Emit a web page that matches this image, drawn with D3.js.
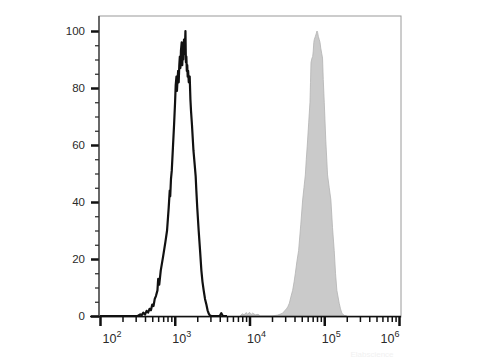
<!DOCTYPE html>
<html>
<head>
<meta charset="utf-8">
<script src="https://cdn.jsdelivr.net/npm/d3@7"></script>
<style>
  body { margin: 0; background: #fff; }
  svg text { font-family: "Liberation Sans", Arial, sans-serif; fill: #2a2a2a; }
</style>
</head>
<body>
<div id="chart"></div>
<script>
// unstained control (black outline) : [intensity, % of max]
let ctrlHist = [
  [100,0],[320,0],[345,0.6],[360,0.2],[380,1.2],[400,0.5],[420,1.8],[440,1.2],[460,2.5],[480,2],
  [500,4],[520,3.5],[540,6],[560,7],[587,9],[600,13],[620,11],[650,16],[700,21],[750,26],
  [789,30],[830,38],[857,44],[870,42],[890,48],[912,51],[945,59],[979,67],[1010,75],[1030,81],
  [1054,84],[1070,79],[1090,83],[1110,86],[1130,82],[1150,88],[1170,91],[1190,87],[1210,93],[1239,96],
  [1260,88],[1280,94],[1300,90],[1330,97],[1360,92],[1390,100],[1410,89],[1430,91],[1450,86],[1470,88],
  [1490,84],[1510,86],[1540,82],[1585,84],[1620,76],[1650,72],[1700,67],[1780,58],[1849,53],[1905,49],
  [1945,44],[2000,38],[2089,30],[2180,23],[2270,16],[2350,12],[2438,9],[2540,6],[2649,4],[2750,2],
  [2850,0.8],[2950,0.2],[3100,0],[4000,0],[4200,1],[4400,0],[5000,0]
];
// stained sample (grey filled)
let stainHist = [
  [7500,0],[8000,0.8],[8500,0.4],[9000,1.2],[9500,0.6],[10000,1.3],[10500,0.5],[11000,1],[12000,0.4],[13000,0.6],
  [14000,0],[20000,0],[23610,0.3],[25500,0.6],[27800,1],[29500,1.8],[31140,2.5],[32500,3.2],[34150,4.5],[36000,7],
  [37780,9],[39500,12],[41050,15],[43000,19],[45410,23],[48500,32],[51400,40.7],[53500,45],[55850,49.5],[57500,55],
  [59320,60],[62000,68],[64420,75],[65500,82],[66490,89],[68550,90.5],[70000,91],[71290,93],[72500,96],[73580,97],
  [75860,98],[78000,99],[80000,100],[81470,99.5],[83500,98],[85740,97],[87800,96],[89800,94],[92640,92],[94870,90.5],
  [97000,83],[100000,75],[104700,62],[110700,49.5],[116600,45],[122700,40.7],[129000,31],[135900,23],[141500,15],[147500,9],
  [158500,4.5],[165000,2.5],[172200,1],[184800,0.2],[200000,0]
];
let xDecades = [1e2,1e3,1e4,1e5,1e6];
let xExpLabels = ['2','3','4','5','6'];
let yMajor = [0,20,40,60,80,100];
let yMinor = d3.range(0,101,5).filter(v=>v%20!=0);

let W = 480, H = 360;
let svg = d3.select('#chart').append('svg').attr('width',W).attr('height',H);

let x = d3.scaleLog().domain([1e2,1e6]).range([100,399]);
let y = d3.scaleLinear().domain([0,100]).range([316,31]);

// frame
svg.append('rect')
  .attr('x',99).attr('y',16).attr('width',302).attr('height',301)
  .attr('fill','none').attr('stroke','#9a9a9a').attr('stroke-width',1);

// grey stained histogram
svg.append('path').datum(stainHist)
  .attr('d', d3.area().x(d=>x(d[0])).y0(y(0)).y1(d=>y(d[1])))
  .attr('fill','#cacaca').attr('stroke','#b2b2b2').attr('stroke-width',0.8);

// black control histogram
svg.append('path').datum(ctrlHist)
  .attr('d', d3.line().x(d=>x(d[0])).y(d=>y(d[1])))
  .attr('fill','none').attr('stroke','#111').attr('stroke-width',2.2)
  .attr('stroke-linejoin','round');

// y axis
let gy = svg.append('g').attr('transform','translate(99,0)');
gy.call(d3.axisLeft(y).tickValues(yMajor).tickSize(8).tickPadding(6));
gy.select('.domain').remove();
gy.selectAll('.tick line').attr('stroke','#111').attr('stroke-width',2.5);
gy.selectAll('.tick text').attr('font-size',11.5).style('fill','#2a2a2a')
  .style('font-family','"Liberation Sans", Arial, sans-serif');
let gyMin = svg.append('g').attr('transform','translate(99,0)');
gyMin.call(d3.axisLeft(y).tickValues(yMinor).tickSize(4).tickFormat(''));
gyMin.select('.domain').remove();
gyMin.selectAll('.tick line').attr('stroke','#222').attr('stroke-width',1.2);
svg.append('line').attr('x1',99).attr('x2',99).attr('y1',16).attr('y2',317)
  .attr('stroke','#333').attr('stroke-width',1.3);

// x axis
let xMinor = [];
for(let k=2;k<6;k++){ for(let m=2;m<10;m++){ xMinor.push(m*Math.pow(10,k)); } }
let gxMin = svg.append('g').attr('transform','translate(0,317)');
gxMin.call(d3.axisBottom(x).tickValues(xMinor).tickSize(5).tickFormat(''));
gxMin.select('.domain').remove();
gxMin.selectAll('.tick line').attr('stroke','#111').attr('stroke-width',1.5);
let gx = svg.append('g').attr('transform','translate(0,317)');
gx.call(d3.axisBottom(x).tickValues(xDecades).tickSize(9).tickFormat(''));
gx.select('.domain').remove();
gx.selectAll('.tick line').attr('stroke','#111').attr('stroke-width',2.5);
svg.append('line').attr('x1',90).attr('x2',401).attr('y1',316.5).attr('y2',316.5)
  .attr('stroke','#111').attr('stroke-width',1.6);

// decade labels 10^n
let lab = svg.append('g').selectAll('text').data(xDecades).enter().append('text')
  .attr('x',d=>Math.min(Math.max(x(d)+7,112),390))
  .attr('y',343).attr('text-anchor','middle').attr('font-size',12.5)
  .style('fill','#2a2a2a');
lab.append('tspan').text('10');
lab.append('tspan').attr('dy',-6).attr('font-size',9).text((d,i)=>xExpLabels[i]);

// faint watermark
svg.append('text').attr('x',372).attr('y',357).attr('text-anchor','middle')
  .attr('font-size',8).style('fill','#f1f1f1').text('Elabscience');
</script>
</body>
</html>
